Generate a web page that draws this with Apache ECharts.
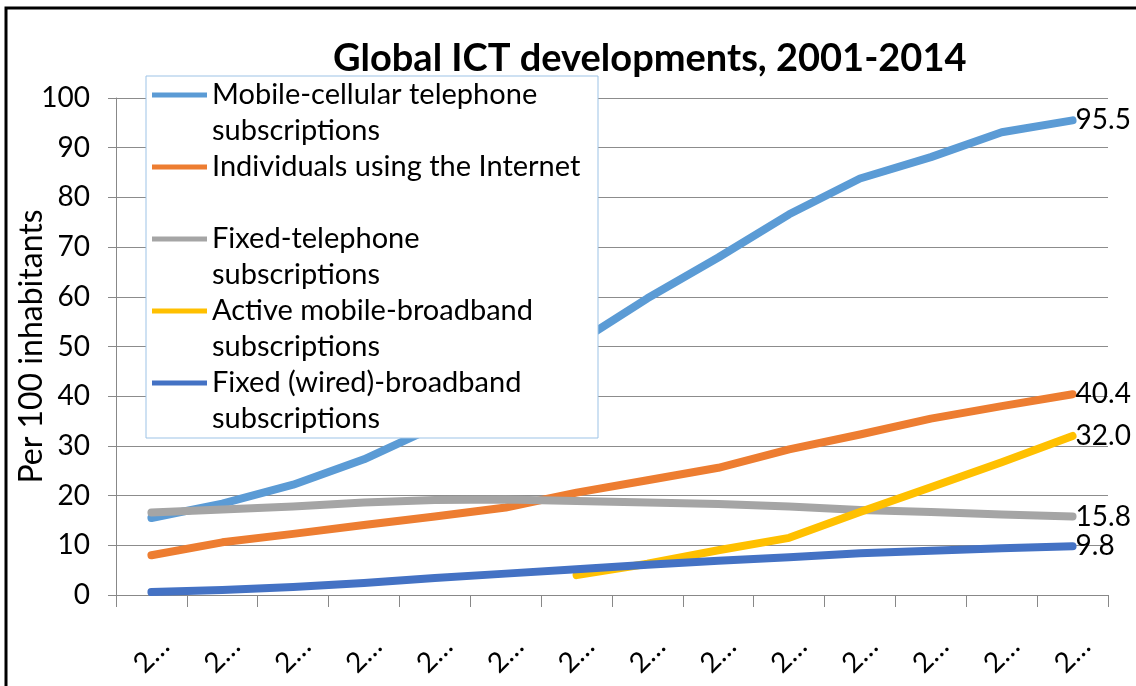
<!DOCTYPE html>
<html>
<head>
<meta charset="utf-8">
<script src="https://cdn.jsdelivr.net/npm/echarts@6/dist/echarts.min.js"></script>
<style>
  html, body { margin: 0; padding: 0; background: #fff; }
  #line-chartIct { width: 1136px; height: 686px; }
</style>
</head>
<body>
<div id="line-chartIct"></div>
<script>
var anoData = ['2001', '2002', '2003', '2004', '2005', '2006', '2007', '2008', '2009', '2010', '2011', '2012', '2013', '2014'];
var mobileData = [15.5, 18.4, 22.2, 27.3, 33.9, 41.7, 50.6, 59.7, 67.9, 76.6, 83.8, 88.1, 93.1, 95.5];
var internetData = [8.0, 10.6, 12.3, 14.1, 15.8, 17.6, 20.6, 23.1, 25.6, 29.3, 32.3, 35.5, 38.0, 40.4];
var fixedTelData = [16.6, 17.2, 17.8, 18.6, 19.1, 19.2, 18.9, 18.6, 18.3, 17.8, 17.1, 16.7, 16.2, 15.8];
var mobileBbData = [null, null, null, null, null, null, 4.0, 6.3, 9.0, 11.5, 16.7, 21.7, 26.7, 32.0];
var fixedBbData = [0.6, 1.0, 1.6, 2.4, 3.4, 4.3, 5.2, 6.1, 6.9, 7.6, 8.4, 8.9, 9.4, 9.8];

var nomes = ['Mobile-cellular telephone subscriptions', 'Individuals using the Internet', 'Fixed-telephone subscriptions', 'Active mobile-broadband subscriptions', 'Fixed (wired)-broadband subscriptions'];
var nomesLegenda = ['Mobile-cellular telephone\nsubscriptions', 'Individuals using the Internet\n ', 'Fixed-telephone\nsubscriptions', 'Active mobile-broadband\nsubscriptions', 'Fixed (wired)-broadband\nsubscriptions'];
var cores = ['#5B9BD5', '#ED7D31', '#A5A5A5', '#FFC000', '#4472C4'];
var dados = [mobileData, internetData, fixedTelData, mobileBbData, fixedBbData];

var fonte = 'Lato';

var dom = document.getElementById('line-chartIct');
var chartIct = echarts.init(dom, null, { width: 1136, height: 686 });

// line icon sitting on the first text line of each legend item
var iconeLinha = 'path://M0,0h0.01v0.01h-0.01z M0,15.5h55v5h-55z M0,71.99h0.01v0.01h-0.01z';

var series = [];
for (var i = 0; i < nomes.length; i++) {
    series.push({
        name: nomes[i],
        type: 'line',
        data: dados[i],
        symbol: 'none',
        smooth: false,
        color: cores[i],
        lineStyle: { width: 8, color: cores[i], cap: 'round', join: 'round' },
        itemStyle: { color: cores[i] },
        endLabel: {
            show: true,
            distance: 3,
            fontFamily: fonte,
            fontSize: 28,
            color: '#000',
            formatter: function (p) { return Number(p.value).toFixed(1); }
        },
        animation: false
    });
}

var option = {
    backgroundColor: '#fff',
    title: {
        text: 'Global ICT developments, 2001-2014',
        left: 328,
        top: 35,
        textStyle: { fontFamily: fonte, fontSize: 38, fontWeight: 'bold', color: '#000' }
    },
    legend: {
        orient: 'vertical',
        left: 146,
        top: 76,
        padding: [1, 11, 1, 6],
        itemGap: 0,
        itemWidth: 55,
        itemHeight: 72,
        icon: iconeLinha,
        backgroundColor: '#fff',
        borderColor: '#9DC3E6',
        borderWidth: 1,
        selectedMode: false,
        data: nomes.map(function (n, k) { return { name: n, itemStyle: { color: cores[k] } }; }),
        formatter: function (n) { return nomesLegenda[nomes.indexOf(n)]; },
        textStyle: { fontFamily: fonte, fontSize: 29, lineHeight: 36, color: '#000', width: 375 }
    },
    grid: { left: 116, right: 28, top: 98, bottom: 91 },
    xAxis: {
        type: 'category',
        data: anoData,
        boundaryGap: true,
        axisLine: { lineStyle: { color: '#888', width: 1 } },
        axisTick: { show: true, length: 12, lineStyle: { color: '#888' } },
        axisLabel: {
            interval: 0,
            rotate: 45,
            align: 'center',
            verticalAlign: 'middle',
            margin: 60,
            fontFamily: fonte,
            fontSize: 28,
            color: '#000',
            formatter: function (v) { return v.charAt(0) + '\u2026'; }
        },
        splitLine: { show: false }
    },
    yAxis: {
        type: 'value',
        min: 0,
        max: 100,
        interval: 10,
        name: 'Per 100 inhabitants',
        nameLocation: 'middle',
        nameGap: 68,
        nameMoveOverlap: false,
        nameTextStyle: { fontFamily: fonte, fontSize: 32, color: '#000' },
        axisLine: { show: true, lineStyle: { color: '#888', width: 1 } },
        axisTick: { show: true, length: 8, lineStyle: { color: '#888' } },
        axisLabel: { margin: 26, fontFamily: fonte, fontSize: 28, color: '#000' },
        splitLine: { show: true, lineStyle: { color: '#8c8c8c', width: 1 } }
    },
    graphic: [{
        type: 'rect',
        silent: true,
        z: 100,
        shape: { x: 6, y: 8, width: 1400, height: 900 },
        style: { fill: 'none', stroke: '#000', lineWidth: 3 }
    }],
    series: series
};

chartIct.setOption(option);
</script>
</body>
</html>
